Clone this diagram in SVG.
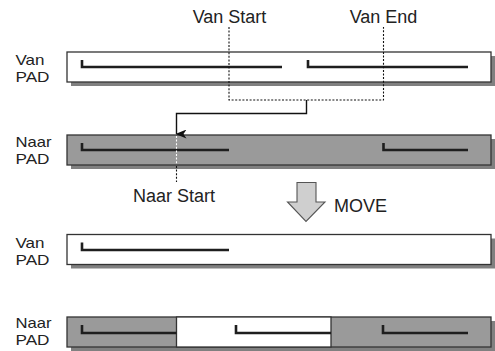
<svg xmlns="http://www.w3.org/2000/svg" width="495" height="351" viewBox="0 0 495 351">
<style>
  text { font-family: "Liberation Sans", Arial, sans-serif; fill: #222; }
  .lbl { font-size: 15px; }
  .top { font-size: 18px; }
  .shadow { fill: #808080; stroke: none; }
  .box { stroke: #333; stroke-width: 1.3; }
  .white { fill: #fff; }
  .gray { fill: #9a9a9a; }
  .seg { fill: none; stroke: #1e1e1e; stroke-width: 2.6; stroke-linejoin: miter; stroke-linecap: butt; }
  .dash { fill: none; stroke: #111; stroke-width: 1.1; stroke-dasharray: 2 1.6; }
  .dashw { fill: none; stroke: #fff; stroke-width: 1.1; stroke-dasharray: 2 1.6; }
  .conn { fill: none; stroke: #111; stroke-width: 1.4; }
</style>
<defs>
  <marker id="ah" markerWidth="9" markerHeight="11" refX="4.5" refY="10" orient="auto-start-reverse" markerUnits="userSpaceOnUse" viewBox="0 0 9 11">
    <path d="M0,0 L4.5,3 L9,0 L4.5,11 Z" fill="#111"/>
  </marker>
</defs>

<g id="van-pad-1">
  <rect class="shadow" x="71" y="56" width="424" height="30"/>
  <rect class="box white" x="67" y="52" width="424" height="30"/>
  <path class="seg" d="M82,60 V67 H282"/>
  <path class="seg" d="M308,60 V67 H468"/>
  <text class="lbl" x="15.5" y="64.5" textLength="29" lengthAdjust="spacingAndGlyphs">Van</text>
  <text class="lbl" x="15.5" y="81.5" textLength="34" lengthAdjust="spacingAndGlyphs">PAD</text>
</g>

<g id="naar-pad-1">
  <rect class="shadow" x="71" y="139" width="424" height="30"/>
  <rect class="box gray" x="67" y="135" width="424" height="30"/>
  <path class="seg" d="M82,143 V150 H229"/>
  <path class="seg" d="M383.5,143 V150 H468"/>
  <text class="lbl" x="15.5" y="146.5" textLength="36" lengthAdjust="spacingAndGlyphs">Naar</text>
  <text class="lbl" x="15.5" y="163.5" textLength="34" lengthAdjust="spacingAndGlyphs">PAD</text>
</g>

<g id="van-pad-2">
  <rect class="shadow" x="71" y="238.5" width="424" height="30"/>
  <rect class="box white" x="67" y="234.5" width="424" height="30"/>
  <path class="seg" d="M82,242.5 V250 H229"/>
  <text class="lbl" x="15.5" y="247.5" textLength="29" lengthAdjust="spacingAndGlyphs">Van</text>
  <text class="lbl" x="15.5" y="264.5" textLength="34" lengthAdjust="spacingAndGlyphs">PAD</text>
</g>

<g id="naar-pad-2">
  <rect class="shadow" x="71" y="321" width="424" height="30"/>
  <rect class="box gray" x="67" y="317" width="424" height="30"/>
  <rect class="box white" x="176.5" y="317" width="154.5" height="30"/>
  <path class="seg" d="M82,325 V333 H176.5"/>
  <path class="seg" d="M236,325 V333 H331"/>
  <path class="seg" d="M383,325 V333 H468"/>
  <text class="lbl" x="15.5" y="328" textLength="36" lengthAdjust="spacingAndGlyphs">Naar</text>
  <text class="lbl" x="15.5" y="345" textLength="34" lengthAdjust="spacingAndGlyphs">PAD</text>
</g>

<g id="label-van-start"><text class="top" x="229.5" y="23" text-anchor="middle">Van Start</text></g>
<g id="label-van-end"><text class="top" x="383.5" y="23" text-anchor="middle">Van End</text></g>
<g id="label-naar-start"><text class="top" x="174" y="201.5" text-anchor="middle">Naar Start</text></g>

<g id="move">
  <polygon points="297,182.5 316,182.5 316,202 325,202 306,221.5 287.5,202 297,202" fill="#cfcfcf" stroke="#555" stroke-width="1.1" stroke-linejoin="miter"/>
  <text class="top" x="334" y="211.5">MOVE</text>
</g>

<g id="connectors">
  <path class="dash" d="M229,27 V100 H383.5 V27"/>
  <path class="conn" d="M306.5,100 V113.5 H176.5 V134" marker-end="url(#ah)"/>
  <path class="dashw" d="M176.5,136 V164.5"/>
  <path class="dash" d="M176.5,166 V182"/>
</g>
</svg>
